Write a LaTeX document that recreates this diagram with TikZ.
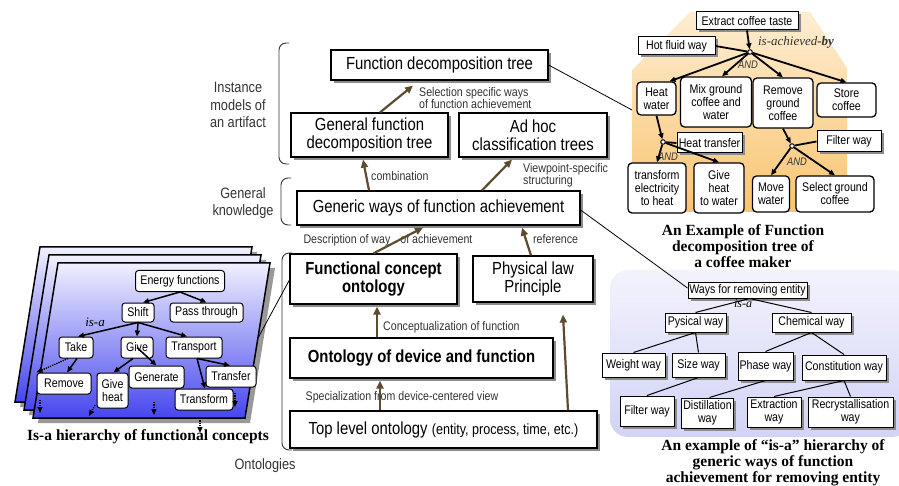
\documentclass[tikz,border=0pt]{standalone}
\usepackage{fontspec}
\setmainfont{Liberation Serif}
\newfontfamily\narrowsf{Liberation Sans}[FakeStretch=0.85]
\usetikzlibrary{arrows.meta}
\usetikzlibrary{shadows}
\definecolor{arrowbrown}{HTML}{5C4B2F}
\definecolor{labelgray}{HTML}{333333}
\definecolor{sheettop}{HTML}{F0F0FF}
\definecolor{sheetmid}{HTML}{B4B4F6}
\definecolor{sheetbot}{HTML}{4646EE}
\definecolor{coffeetop}{HTML}{FEEDD2}
\definecolor{coffeebot}{HTML}{F9C470}
\definecolor{lavtop}{HTML}{F3F3FD}
\definecolor{lavbot}{HTML}{D2D3F6}

\tikzset{
  bigbox/.style={draw, line width=1.2pt, fill=white, align=center, inner sep=0pt,
    drop shadow={shadow xshift=3pt, shadow yshift=-3pt, fill=black!45, opacity=1},
    font=\narrowsf\fontsize{17.5}{17.5}\selectfont},
  boldbox/.style={bigbox, font=\narrowsf\bfseries\fontsize{17.5}{18}\selectfont},
  midlabel/.style={font=\narrowsf\fontsize{12.5}{12}\selectfont, text=labelgray, inner sep=0pt, align=left},
  sidelabel/.style={font=\narrowsf\fontsize{15}{17.5}\selectfont, text=labelgray, align=center},
  brarrow/.style={-{Triangle[length=8pt,width=7pt]}, line width=2.2pt, arrowbrown},
  conceptbox/.style={draw, line width=1pt, fill=white, rounded corners=3pt, inner sep=0pt,
    align=center, font=\narrowsf\fontsize{12.5}{13}\selectfont},
  isaarrow/.style={-{Triangle[length=6pt,width=5pt]}, line width=1.5pt},
  dotarrow/.style={-{Triangle[length=6pt,width=5pt]}, line width=1.3pt, densely dotted},
  coffeebox/.style={draw, line width=1.3pt, fill=white, rounded corners=4pt, inner sep=0pt,
    align=center, font=\narrowsf\fontsize{12.5}{13}\selectfont},
  waybox/.style={draw, line width=1pt, fill=white, inner sep=0pt, align=center,
    drop shadow={shadow xshift=2.5pt, shadow yshift=-2.5pt, fill=black!45, opacity=1},
    font=\narrowsf\fontsize{12.5}{13}\selectfont},
  junction/.style={draw, circle, fill=white, line width=1pt, minimum size=4.5pt, inner sep=0pt},
  andlabel/.style={font=\narrowsf\itshape\fontsize{11}{11}\selectfont, text=labelgray, inner sep=0pt},
  cofarrow/.style={-{Triangle[length=6pt,width=5pt]}, line width=1.8pt},
  caption/.style={font=\bfseries\fontsize{15.5}{16}\selectfont, align=center},
}

\begin{document}
\begin{tikzpicture}[x=1pt,y=-1pt]
\useasboundingbox (0,0) rectangle (899,486);

% panels behind the trees
\shade[top color=coffeetop, bottom color=coffeebot]
  (690,12) -- (810,12) -- (847,68) -- (847,196) -- (832,212) -- (645,212) -- (632,199) -- (632,70) -- cycle;
\shade[top color=lavtop, bottom color=lavbot, rounded corners=18pt] (610,270) rectangle (910,437);

\foreach \dx/\dy in {-18/-16,-9/-8,0/0}{
  \fill[black!40,shift={(\dx+5,\dy+5)}] (58,263) -- (270,263) -- (245,418) -- (33,418) -- cycle;
  \draw[line width=1.5pt, top color=sheettop, middle color=sheetmid, bottom color=sheetbot, shift={(\dx,\dy)}]
    (58,263) -- (270,263) -- (245,418) -- (33,418) -- cycle;
}

% braces and side labels
\draw[line width=0.9pt, black!80, rounded corners=7pt] (289,43) -- (279,43) -- (279,164) -- (289,164);
\draw[line width=0.9pt, black!80, rounded corners=7pt] (291,178) -- (281,178) -- (281,225) -- (291,225);
\draw[line width=0.9pt, black!80, rounded corners=7pt] (292,253) -- (282,253) -- (282,450) -- (292,450);
\node[sidelabel] (inst) at (238,105) {Instance\\models of\\an artifact};
\node[sidelabel] (know) at (243,203) {General\\knowledge};
\node[sidelabel] (onto) at (265,466) {Ontologies};

% middle column
\node[bigbox, minimum width=217pt, minimum height=30pt] (fdt) at (439.5,65) {Function decomposition tree};
\node[bigbox, minimum width=157pt, minimum height=44pt] (gfdt) at (369.5,135) {General function\\decomposition tree};
\node[bigbox, minimum width=148pt, minimum height=44pt] (adhoc) at (533,135) {Ad hoc\\classification trees};
\node[bigbox, minimum width=283pt, minimum height=34pt] (generic) at (438.5,208) {Generic ways of function achievement};
\node[boldbox, minimum width=167pt, minimum height=50pt] (fco) at (373.5,279) {Functional concept\\ontology};
\node[bigbox, minimum width=120pt, minimum height=46pt] (phys) at (533,279) {Physical law\\Principle};
\node[boldbox, minimum width=263pt, minimum height=40pt] (odf) at (421.5,358) {Ontology of device and function};
\node[bigbox, minimum width=307pt, minimum height=37pt] (tlo) at (443.5,429.5)
  {Top level ontology {\fontsize{14.8}{15}\selectfont(entity, process, time, etc.)}};

\node[midlabel, anchor=north west] (lsel) at (419,87) {Selection specific ways\\of function achievement};
\node[midlabel, anchor=west] (lcomb) at (371,176) {combination};
\node[midlabel, anchor=west] (lview) at (523,175) {Viewpoint-specific\\structuring};
\node[midlabel] (ldesc) at (388,240) {Description of way\hspace{10pt}of achievement};
\node[midlabel, anchor=west] (lref) at (533,239) {reference};
\node[midlabel, anchor=west] (lconc) at (383,327) {Conceptualization of function};
\node[midlabel] (lspec) at (402,397) {Specialization from device-centered view};

\draw[brarrow] ([xshift=10.5pt]gfdt.north) -- ([xshift=-26.5pt,yshift=-5pt]fdt.south);
\draw[brarrow] ([xshift=-69.5pt]generic.north) -- ([xshift=-6.5pt,yshift=-2pt]gfdt.south);
\draw[brarrow] ([xshift=43.5pt]generic.north) -- ([xshift=-21pt,yshift=-2pt]adhoc.south);
\draw[brarrow] (fco.north) -- ([xshift=-15.5pt,yshift=-2pt]generic.south);
\draw[brarrow] ([xshift=-2pt]phys.north) -- ([xshift=83.5pt,yshift=-2pt]generic.south);
\draw[brarrow] ([xshift=-44.5pt]odf.north) -- ([xshift=3.5pt,yshift=-2pt]fco.south);
\draw[brarrow] ([xshift=-63.5pt]tlo.north) -- ([xshift=-41.5pt,yshift=-2pt]odf.south);
\draw[brarrow] ([xshift=124.5pt]tlo.north) -- ([xshift=30pt,yshift=-12pt]phys.south);

% thin links to the coffee tree and the sheets
\coordinate (cofedge) at (632,110);
\coordinate (sheetedge) at (258,338);
\draw[line width=0.8pt] (fdt.east) -- (cofedge);
\draw[line width=0.8pt] ([yshift=-1pt]fco.west) -- (sheetedge);

% is-a hierarchy of functional concepts
\node[conceptbox, minimum width=89pt, minimum height=21pt] (energy) at (180,281) {Energy functions};
\node[conceptbox, minimum width=32pt, minimum height=19pt] (shift) at (138,312.5) {Shift};
\node[conceptbox, minimum width=73pt, minimum height=19pt] (pass) at (206.5,312.5) {Pass through};
\node[conceptbox, minimum width=34pt, minimum height=21pt] (take) at (76,347.5) {Take};
\node[conceptbox, minimum width=32pt, minimum height=21pt] (give) at (137,347.5) {Give};
\node[conceptbox, minimum width=56pt, minimum height=21pt] (transport) at (194,347.5) {Transport};
\node[conceptbox, minimum width=54pt, minimum height=21pt] (remove) at (64,383.5) {Remove};
\node[conceptbox, minimum width=55pt, minimum height=22pt] (generate) at (156.5,377) {Generate};
\node[conceptbox, minimum width=31pt, minimum height=35pt] (giveheat) at (112.5,390.5) {Give\\heat};
\node[conceptbox, minimum width=50pt, minimum height=21pt] (transfer) at (231,376.5) {Transfer};
\node[conceptbox, minimum width=58pt, minimum height=21pt] (transform) at (204,399.5) {Transform};
\node[font=\itshape\fontsize{13}{13}\selectfont] (isa) at (95,322) {is-a};

\draw[isaarrow] (energy.south) -- ([xshift=5pt]shift.north);
\draw[isaarrow] (energy.south) -- (pass.north);
\draw[isaarrow] (shift.south) -- ([xshift=2pt]take.north);
\draw[isaarrow] (shift.south) -- (give.north);
\draw[isaarrow] (shift.south) -- ([xshift=-7pt]transport.north);
\draw[dotarrow] ([xshift=-8pt]take.south) -- (remove.north west);
\draw[isaarrow] ([xshift=1pt]take.south) -- ([xshift=3pt]remove.north);
\draw[isaarrow] ([xshift=-4pt]give.south) -- ([xshift=1pt]giveheat.north);
\draw[isaarrow] (give.center) -- (generate.north);
\draw[isaarrow] ([xshift=3pt]transport.south) -- ([xshift=-1pt]transfer.north);
\draw[isaarrow] ([xshift=3pt]transport.south) -- ([xshift=1pt]transform.north);
\foreach \xa/\ya/\xb/\yb in {40/400/40/413, 95/405/89/416, 154/402/154/415, 235/393/235/407, 200/418/200/433}
  \draw[dotarrow] (\xa,\ya) -- (\xb,\yb);
\node[caption] (capisa) at (148,437) {Is-a hierarchy of functional concepts};

% coffee maker decomposition tree
\node[waybox, minimum width=102pt, minimum height=18pt] (extract) at (747,21) {Extract coffee taste};
\node[waybox, minimum width=77pt, minimum height=18pt] (hotfluid) at (676.5,46) {Hot fluid way};
\node[junction] (ja) at (750,52) {};
\node[andlabel] (anda) at (748,65) {AND};
\node[font=\bfseries\itshape\fontsize{13}{13}\selectfont, text=black!80] (achieved) at (796,42)
  {\mdseries is-achieved\bfseries-by};
\node[coffeebox, minimum width=39pt, minimum height=33pt] (heatwater) at (656.5,98.5) {Heat\\water};
\node[coffeebox, minimum width=71pt, minimum height=50pt] (mix) at (716,102) {Mix ground\\coffee and\\water};
\node[coffeebox, minimum width=60pt, minimum height=50pt] (removegc) at (783,103) {Remove\\ground\\coffee};
\node[coffeebox, minimum width=59pt, minimum height=34pt] (store) at (846.5,100) {Store\\coffee};
\node[junction] (jb) at (663,142) {};
\node[waybox, minimum width=65pt, minimum height=20pt] (heattransfer) at (709.5,143) {Heat transfer};
\node[andlabel] (andb) at (668,157) {AND};
\node[coffeebox, minimum width=58pt, minimum height=50pt] (elec) at (657,188) {transform\\electricity\\to heat};
\node[coffeebox, minimum width=50pt, minimum height=50pt] (giveheatw) at (719,188) {Give\\heat\\to water};
\node[junction] (jc) at (792,146) {};
\node[waybox, minimum width=64pt, minimum height=21pt] (filterw) at (849,141.5) {Filter way};
\node[andlabel] (andc) at (797,162) {AND};
\node[coffeebox, minimum width=37pt, minimum height=36pt] (movew) at (771,194) {Move\\water};
\node[coffeebox, minimum width=78pt, minimum height=36pt] (selectgc) at (835,194) {Select ground\\coffee};

\draw[cofarrow] (extract.south) -- (ja);
\draw[line width=1.8pt] (hotfluid.east) -- (ja);
\draw[cofarrow] (ja) -- ([xshift=13pt]heatwater.north);
\draw[cofarrow] (ja) -- ([xshift=6pt]mix.north);
\draw[cofarrow] (ja) -- (removegc.north);
\draw[cofarrow] (ja) -- (store.north);
\draw[cofarrow] (heatwater.south) -- (jb);
\draw[line width=1.8pt] (jb) -- (heattransfer.west);
\draw[cofarrow] (jb) -- (elec.north);
\draw[cofarrow] (jb) -- (giveheatw.north);
\draw[cofarrow] (removegc.south) -- (jc);
\draw[line width=1.8pt] (jc) -- (filterw.west);
\draw[cofarrow] (jc) -- (movew.north);
\draw[cofarrow] (jc) -- (selectgc.north);
\node[caption] (capcof) at (743,246) {An Example of Function\\decomposition tree of\\a coffee maker};

% is-a hierarchy of ways for removing entity
\node[waybox, minimum width=119pt, minimum height=16pt] (ways) at (747.5,290) {Ways for removing entity};
\node[font=\itshape\fontsize{12}{12}\selectfont, inner sep=0pt] (isaw) at (743,304) {is-a};
\node[waybox, minimum width=61pt, minimum height=19pt] (pysical) at (695.5,322.5) {Pysical way};
\node[waybox, minimum width=79pt, minimum height=19pt] (chemical) at (811.5,322.5) {Chemical way};
\node[waybox, minimum width=63pt, minimum height=24pt] (weight) at (633.5,365) {Weight way};
\node[waybox, minimum width=53pt, minimum height=24pt] (size) at (698.5,365) {Size way};
\node[waybox, minimum width=55pt, minimum height=28pt] (phase) at (765.5,366) {Phase way};
\node[waybox, minimum width=84pt, minimum height=25pt] (constitution) at (844,367.5) {Constitution way};
\node[waybox, minimum width=54pt, minimum height=30pt] (filter) at (647,411) {Filter way};
\node[waybox, minimum width=52pt, minimum height=30pt] (distill) at (707.5,413) {Distillation\\way};
\node[waybox, minimum width=54pt, minimum height=30pt] (extraction) at (774,412) {Extraction\\way};
\node[waybox, minimum width=85pt, minimum height=30pt] (recryst) at (850.5,412) {Recrystallisation\\way};

\draw[line width=0.8pt] ([yshift=-2pt]generic.east) -- ([yshift=2pt]ways.west);
\draw[line width=1pt] ([xshift=2pt]ways.south) -- (pysical.north);
\draw[line width=1pt] ([xshift=2pt]ways.south) -- (chemical.north);
\draw[line width=1pt] (pysical.south) -- (weight.north);
\draw[line width=1pt] (pysical.south) -- (size.north);
\draw[line width=1pt] (chemical.south) -- (phase.north);
\draw[line width=1pt] (chemical.south) -- (constitution.north);
\draw[line width=1pt] (size.south) -- (filter.north);
\draw[line width=1pt] (phase.south) -- ([xshift=2pt]distill.north);
\draw[line width=1pt] (constitution.south) -- (extraction.north);
\draw[line width=1pt] (constitution.south) -- (recryst.north);
\node[caption] (capway) at (773,463) {An example of ``is-a'' hierarchy of\\generic ways of function\\achievement for removing entity};
\end{tikzpicture}
\end{document}
